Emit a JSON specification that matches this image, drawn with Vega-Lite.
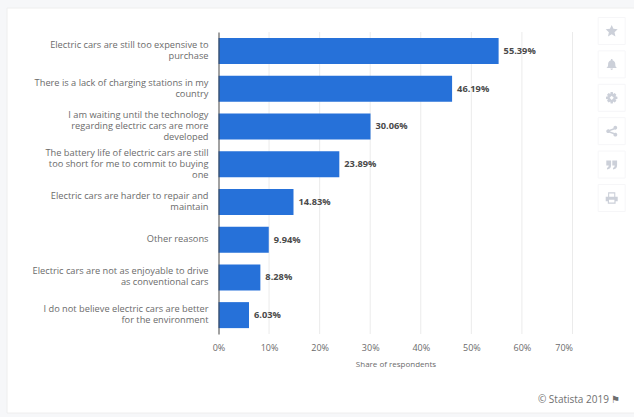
{
  "$schema": "https://vega.github.io/schema/vega-lite/v6.json",
  "description": "Reasons for not buying an electric car, share of respondents.",
  "autosize": "none",
  "width": 354,
  "height": 302,
  "padding": {"left": 218.5, "top": 32, "right": 61.5, "bottom": 83},
  "background": "#f6f7f9",
  "datasets": {
    "reasons": [
      {"row": 1, "reason": "Electric cars are still too expensive to\npurchase", "share": 0.5539},
      {"row": 2, "reason": "There is a lack of charging stations in my\ncountry", "share": 0.4619},
      {"row": 3, "reason": "I am waiting until the technology\nregarding electric cars are more\ndeveloped", "share": 0.3006},
      {"row": 4, "reason": "The battery life of electric cars are still\ntoo short for me to commit to buying\none", "share": 0.2389},
      {"row": 5, "reason": "Electric cars are harder to repair and\nmaintain", "share": 0.1483},
      {"row": 6, "reason": "Other reasons", "share": 0.0994},
      {"row": 7, "reason": "Electric cars are not as enjoyable to drive\nas conventional cars", "share": 0.0828},
      {"row": 8, "reason": "I do not believe electric cars are better\nfor the environment", "share": 0.0603}
    ],
    "ticks": [
      {"tick": 0.1}, {"tick": 0.2}, {"tick": 0.3}, {"tick": 0.4}, {"tick": 0.5}, {"tick": 0.6}, {"tick": 0.7}
    ],
    "tools": [
      {"tool": "star"}, {"tool": "bell"}, {"tool": "gear"}, {"tool": "share"}, {"tool": "quote"}, {"tool": "print"}
    ]
  },
  "title": {
    "text": "© Statista 2019 ⚑",
    "orient": "bottom",
    "anchor": "end",
    "frame": "group",
    "offset": -19,
    "dx": 48,
    "font": "Open Sans",
    "fontSize": 10,
    "fontWeight": "normal",
    "color": "#6f6f6f"
  },
  "resolve": {"scale": {"x": "independent", "y": "independent", "shape": "independent"}},
  "layer": [
    {
      "data": {"values": [{"panel": "card"}]},
      "mark": {"type": "rect", "fill": "#ffffff", "stroke": "#eeeeee", "strokeWidth": 1, "clip": false},
      "encoding": {
        "x": {"datum": 0, "type": "quantitative", "axis": null, "scale": {"domain": [0, 1], "range": [-211.5, 420]}},
        "x2": {"datum": 1},
        "y": {"datum": 0, "type": "quantitative", "axis": null, "scale": {"domain": [0, 1], "range": [-24, 381]}},
        "y2": {"datum": 1}
      }
    },
    {
      "data": {"name": "reasons"},
      "encoding": {
        "y": {
          "field": "reason",
          "type": "nominal",
          "sort": {"field": "row", "op": "min"},
          "title": null,
          "scale": {"paddingInner": 0, "paddingOuter": 0},
          "axis": {
            "zindex": 1,
            "ticks": false,
            "grid": false,
            "domainColor": "#444444",
            "domainWidth": 1,
            "labelPadding": 10.5,
            "labelLimit": 210,
            "labelFont": "Open Sans",
            "labelFontSize": 9.25,
            "labelColor": "#6b6b6b",
            "labelLineHeight": 11,
            "labelOffset": {"expr": "-5.5 * (length(split(datum.value, '\\n')) - 1) - 0.5"},
            "labelExpr": "split(datum.label, '\\n')"
          }
        },
        "x": {
          "field": "share",
          "type": "quantitative",
          "title": "Share of respondents",
          "scale": {"domain": [0, 0.7], "nice": false},
          "axis": {
            "zindex": 1,
            "values": [0, 0.1, 0.2, 0.3, 0.4, 0.5, 0.6, 0.7],
            "format": ".0%",
            "grid": false,
            "ticks": false,
            "domain": false,
            "labelFont": "Open Sans",
            "labelFontSize": 9,
            "labelColor": "#6b6b6b",
            "labelPadding": 9,
            "labelAlign": {"condition": {"test": "datum.value > 0.65", "value": "right"}, "value": "center"},
            "titleFont": "Open Sans",
            "titleFontSize": 8,
            "titleFontWeight": "normal",
            "titleColor": "#6b6b6b",
            "titlePadding": 8
          }
        }
      },
      "layer": [
        {
          "transform": [{"filter": "datum.row % 2 == 0"}],
          "mark": {"type": "bar", "size": 37.75, "fill": "#000000", "opacity": 0.025},
          "encoding": {"x": {"datum": 0.7, "type": "quantitative"}}
        },
        {
          "data": {"name": "ticks"},
          "mark": {"type": "rule", "color": "#ebebeb", "strokeWidth": 1},
          "encoding": {"x": {"field": "tick", "type": "quantitative"}, "y": null}
        },
        {
          "mark": {"type": "bar", "size": 26, "color": "#2671d9"}
        },
        {
          "mark": {"type": "text", "align": "left", "baseline": "middle", "dx": 5, "font": "Open Sans", "fontSize": 9.25, "fontWeight": "bold", "color": "#4a4a4a"},
          "encoding": {"text": {"field": "share", "type": "quantitative", "format": ".2%"}}
        }
      ]
    },
    {
      "data": {"name": "tools"},
      "encoding": {
        "x": {"datum": "tools", "type": "nominal", "axis": null, "scale": {"domain": ["tools"], "range": [393.2, 393.2]}},
        "y": {
          "field": "tool",
          "type": "nominal",
          "axis": null,
          "sort": null,
          "scale": {"type": "point", "domain": ["star", "bell", "gear", "share", "quote", "print"], "range": [-1, 166], "padding": 0}
        }
      },
      "layer": [
        {
          "mark": {"type": "point", "shape": "square", "filled": true, "size": 729, "fill": "#ffffff", "stroke": "#f6f6f8", "strokeWidth": 1, "opacity": 1}
        },
        {
          "mark": {"type": "point", "filled": true, "size": 144, "color": "#ccd0d9", "opacity": 1},
          "encoding": {
            "shape": {
              "field": "tool",
              "type": "nominal",
              "legend": null,
              "scale": {
                "domain": ["star", "bell", "gear", "share", "quote", "print"],
                "range": [
                  "M0,-1 L0.29,-0.36 L1,-0.28 L0.47,0.2 L0.62,0.9 L0,0.54 L-0.62,0.9 L-0.47,0.2 L-1,-0.28 L-0.29,-0.36 Z",
                  "M-0.12,-0.9 L0.12,-0.9 L0.14,-0.7 C0.5,-0.6 0.6,-0.3 0.6,0 C0.6,0.3 0.7,0.45 0.9,0.6 L-0.9,0.6 C-0.7,0.45 -0.6,0.3 -0.6,0 C-0.6,-0.3 -0.5,-0.6 -0.14,-0.7 Z M-0.22,0.7 L0.22,0.7 C0.2,1 -0.2,1 -0.22,0.7 Z",
                  "M-0.18,-0.95 L0.18,-0.95 L0.24,-0.62 L0.5,-0.78 L0.78,-0.5 L0.62,-0.24 L0.95,-0.18 L0.95,0.18 L0.62,0.24 L0.78,0.5 L0.5,0.78 L0.24,0.62 L0.18,0.95 L-0.18,0.95 L-0.24,0.62 L-0.5,0.78 L-0.78,0.5 L-0.62,0.24 L-0.95,0.18 L-0.95,-0.18 L-0.62,-0.24 L-0.78,-0.5 L-0.5,-0.78 L-0.24,-0.62 Z M0,-0.35 L-0.35,0 L0,0.35 L0.35,0 Z",
                  "M0.6,-0.9 A0.32,0.32 0 1 1 0.6,-0.26 L0.48,-0.3 L-0.25,-0.05 L-0.25,0.05 L0.48,0.3 L0.6,0.26 A0.32,0.32 0 1 1 0.3,0.5 L-0.4,0.26 A0.32,0.32 0 1 1 -0.4,-0.26 L0.3,-0.5 A0.32,0.32 0 0 1 0.6,-0.9 Z",
                  "M-0.9,-0.7 L-0.1,-0.7 L-0.1,0.1 C-0.1,0.5 -0.35,0.75 -0.75,0.8 L-0.8,0.55 C-0.6,0.5 -0.5,0.35 -0.5,0.15 L-0.9,0.15 Z M0.1,-0.7 L0.9,-0.7 L0.9,0.1 C0.9,0.5 0.65,0.75 0.25,0.8 L0.2,0.55 C0.4,0.5 0.5,0.35 0.5,0.15 L0.1,0.15 Z",
                  "M-0.6,-0.95 L0.6,-0.95 L0.6,-0.2 L1,-0.2 L1,0.55 L0.65,0.55 L0.65,0.95 L-0.65,0.95 L-0.65,0.55 L-1,0.55 L-1,-0.2 L-0.6,-0.2 Z M-0.42,-0.75 L-0.42,-0.2 L0.42,-0.2 L0.42,-0.75 Z M-0.45,0.3 L-0.45,0.75 L0.45,0.75 L0.45,0.3 Z"
                ]
              }
            }
          }
        }
      ]
    }
  ]
}
